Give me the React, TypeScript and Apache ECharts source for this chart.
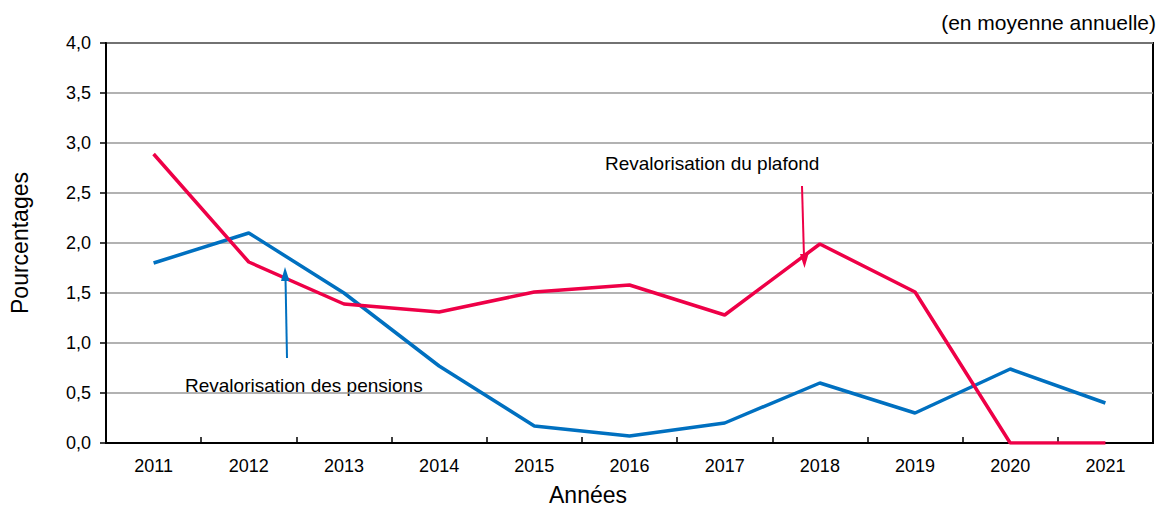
import React, { useEffect, useRef } from "react";
import * as echarts from "echarts";

const years = ["2011", "2012", "2013", "2014", "2015", "2016", "2017", "2018", "2019", "2020", "2021"];
const pensions = [1.8, 2.1, 1.5, 0.77, 0.17, 0.07, 0.2, 0.6, 0.3, 0.74, 0.4];
const plafond = [2.89, 1.81, 1.39, 1.31, 1.51, 1.58, 1.28, 1.99, 1.51, 0.0, 0.0];
const yTicks = { min: 0, max: 4, interval: 0.5 };

const FONT = "Liberation Sans, Arial, sans-serif";
const BLUE = "#0070c0";
const RED = "#ee0047";

export default function App() {
  const ref = useRef<HTMLDivElement>(null);
  useEffect(() => {
    const chart = echarts.init(ref.current!, null, { renderer: "svg" });
    chart.setOption({
      animation: false,
      textStyle: { fontFamily: FONT },
      grid: {
        left: 104,
        right: 8,
        top: 43,
        bottom: 65,
        show: true,
        borderColor: "#000",
        borderWidth: 2,
      },
      xAxis: {
        type: "category",
        data: years,
        boundaryGap: true,
        axisLine: { lineStyle: { color: "#000", width: 2 } },
        axisTick: { show: true, inside: true, length: 6, interval: 0, lineStyle: { color: "#000", width: 1.5 } },
        axisLabel: { fontSize: 18, color: "#000", margin: 14, fontFamily: FONT },
        splitLine: { show: false },
      },
      yAxis: {
        type: "value",
        min: yTicks.min,
        max: yTicks.max,
        interval: yTicks.interval,
        name: "Pourcentages",
        nameLocation: "middle",
        nameGap: 75,
        nameTextStyle: { fontSize: 23, color: "#000", fontFamily: FONT },
        axisLine: { show: true, lineStyle: { color: "#000", width: 2 } },
        axisTick: { show: true, inside: false, length: 6, lineStyle: { color: "#000", width: 1.5 } },
        axisLabel: {
          fontSize: 18,
          color: "#000",
          margin: 15,
          fontFamily: FONT,
          formatter: (v: number) => v.toFixed(1).replace(".", ","),
        },
        splitLine: { show: true, lineStyle: { color: "#999", width: 1.5 } },
      },
      series: [
        {
          name: "Revalorisation des pensions",
          type: "line",
          data: pensions,
          symbol: "none",
          lineStyle: { color: BLUE, width: 3.5 },
          itemStyle: { color: BLUE },
          z: 3,
        },
        {
          name: "Revalorisation du plafond",
          type: "line",
          data: plafond,
          symbol: "none",
          lineStyle: { color: RED, width: 3.5 },
          itemStyle: { color: RED },
          z: 4,
        },
      ],
      graphic: [
        {
          type: "text",
          x: 1156,
          y: 22,
          style: { text: "(en moyenne annuelle)", fill: "#000", font: `21px ${FONT}`, align: "right", verticalAlign: "middle" },
        },
        {
          type: "text",
          x: 588,
          y: 495,
          style: { text: "Années", fill: "#000", font: `23px ${FONT}`, align: "center", verticalAlign: "middle" },
        },
        {
          type: "text",
          x: 185,
          y: 385,
          style: { text: "Revalorisation des pensions", fill: "#000", font: `19px ${FONT}`, align: "left", verticalAlign: "middle" },
        },
        {
          type: "text",
          x: 605,
          y: 163,
          style: { text: "Revalorisation du plafond", fill: "#000", font: `19px ${FONT}`, align: "left", verticalAlign: "middle" },
        },
        {
          type: "line",
          shape: { x1: 287, y1: 358, x2: 285.5, y2: 278 },
          style: { stroke: BLUE, lineWidth: 2 },
          z: 10,
        },
        {
          type: "polygon",
          shape: { points: [[285, 267], [281, 281], [289.5, 281]] },
          style: { fill: BLUE },
          z: 10,
        },
        {
          type: "line",
          shape: { x1: 802, y1: 186, x2: 804, y2: 257 },
          style: { stroke: RED, lineWidth: 2 },
          z: 10,
        },
        {
          type: "polygon",
          shape: { points: [[804.5, 268], [800, 254], [808.5, 254]] },
          style: { fill: RED },
          z: 10,
        },
      ],
    });
    return () => chart.dispose();
  }, []);
  return (
    <div
      ref={ref}
      style={{ position: "absolute", left: 0, top: 0, width: 1161, height: 508, background: "#fff" }}
    />
  );
}
